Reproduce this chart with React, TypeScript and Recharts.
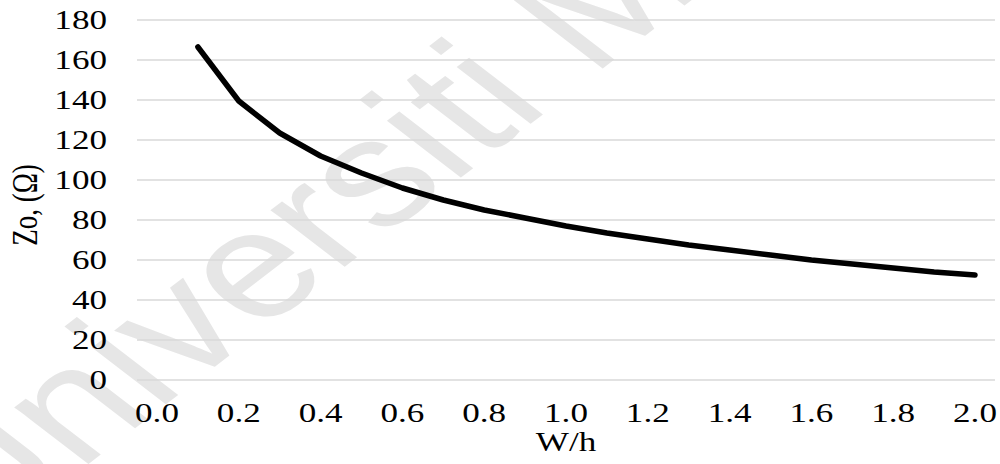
import React from "react";
import { LineChart, Line, XAxis, YAxis, CartesianGrid } from "recharts";

// W/h ratio and characteristic impedance Z0 (ohm)
const widthRatio = [0.1, 0.2, 0.3, 0.4, 0.5, 0.6, 0.7, 0.8, 0.9, 1.0, 1.1, 1.2, 1.3, 1.4, 1.5, 1.6, 1.7, 1.8, 1.9, 2.0];
const impedance = [166.5, 139.5, 123.5, 112, 103.5, 96, 90, 85, 81, 77, 73.5, 70.5, 67.5, 65, 62.5, 60, 58, 56, 54, 52.5];

const xTicks = [0, 0.2, 0.4, 0.6, 0.8, 1.0, 1.2, 1.4, 1.6, 1.8, 2.0];
const yTicks = [0, 20, 40, 60, 80, 100, 120, 140, 160, 180];

const data = widthRatio.map((w, i) => ({ w, z: impedance[i] }));

// the source picture is stretched sideways, so text is widened to match
const STRETCH = 1.3;
const FONT = "'Liberation Serif', 'Times New Roman', serif";
const FONT_SIZE = 27;

function XTick({ x, y, payload }: any) {
  return (
    <text transform={`translate(${x},${y}) scale(${STRETCH},1)`} textAnchor="middle" fontFamily={FONT} fontSize={FONT_SIZE} fill="#000">
      {Number(payload.value).toFixed(1)}
    </text>
  );
}

function YTick({ x, y, payload }: any) {
  return (
    <text transform={`translate(${x},${y}) scale(${STRETCH},1)`} textAnchor="end" dominantBaseline="central" fontFamily={FONT} fontSize={FONT_SIZE} fill="#000">
      {payload.value}
    </text>
  );
}

function YLabel({ viewBox }: any) {
  const cx = viewBox.x + 13;
  const cy = viewBox.y + viewBox.height / 2 + 5;
  return (
    <text transform={`translate(${cx},${cy}) scale(${STRETCH},1) rotate(-90)`} textAnchor="middle" dominantBaseline="central" fontFamily={FONT} fontSize={FONT_SIZE} fill="#000">
      Zo, (Ω)
    </text>
  );
}

function XLabel({ viewBox }: any) {
  const cx = viewBox.x + viewBox.width / 2;
  const cy = viewBox.y + 71;
  return (
    <text transform={`translate(${cx},${cy}) scale(${STRETCH},1)`} textAnchor="middle" fontFamily={FONT} fontSize={FONT_SIZE} fill="#000">
      W/h
    </text>
  );
}

export default function App() {
  return (
    <div style={{ position: "absolute", left: 0, top: 0, width: 1000, height: 464, background: "#fff", overflow: "hidden" }}>
      {/* faint repository watermark behind the chart */}
      <svg width={1000} height={464} style={{ position: "absolute", left: 0, top: 0 }}>
        <text
          transform={`scale(${STRETCH},1) translate(-17,549) rotate(-45)`}
          fontFamily="'Liberation Sans', Arial, sans-serif"
          fontSize={152}
          fill="#e6e6e6"
        >
          Universiti Malaya
        </text>
      </svg>
      <div style={{ position: "absolute", left: 0, top: 0 }}>
        <LineChart width={1000} height={464} data={data} margin={{ top: 20, right: 5, bottom: 0, left: 12 }}>
          <CartesianGrid vertical={false} stroke="#d9d9d9" strokeWidth={1.5} />
          <XAxis
            dataKey="w"
            type="number"
            domain={[0, 2]}
            ticks={xTicks}
            interval={0}
            padding={{ left: 20, right: 20 }}
            axisLine={false}
            tickLine={false}
            tickSize={0}
            tickMargin={42}
            height={84}
            tick={<XTick />}
            label={<XLabel />}
          />
          <YAxis
            type="number"
            domain={[0, 180]}
            ticks={yTicks}
            interval={0}
            axisLine={false}
            tickLine={false}
            tickSize={0}
            tickMargin={30}
            width={125}
            tick={<YTick />}
            label={<YLabel />}
          />
          <Line
            type="linear"
            dataKey="z"
            stroke="#000"
            strokeWidth={5.5}
            strokeLinecap="round"
            strokeLinejoin="round"
            dot={false}
            activeDot={false}
            isAnimationActive={false}
          />
        </LineChart>
      </div>
    </div>
  );
}
